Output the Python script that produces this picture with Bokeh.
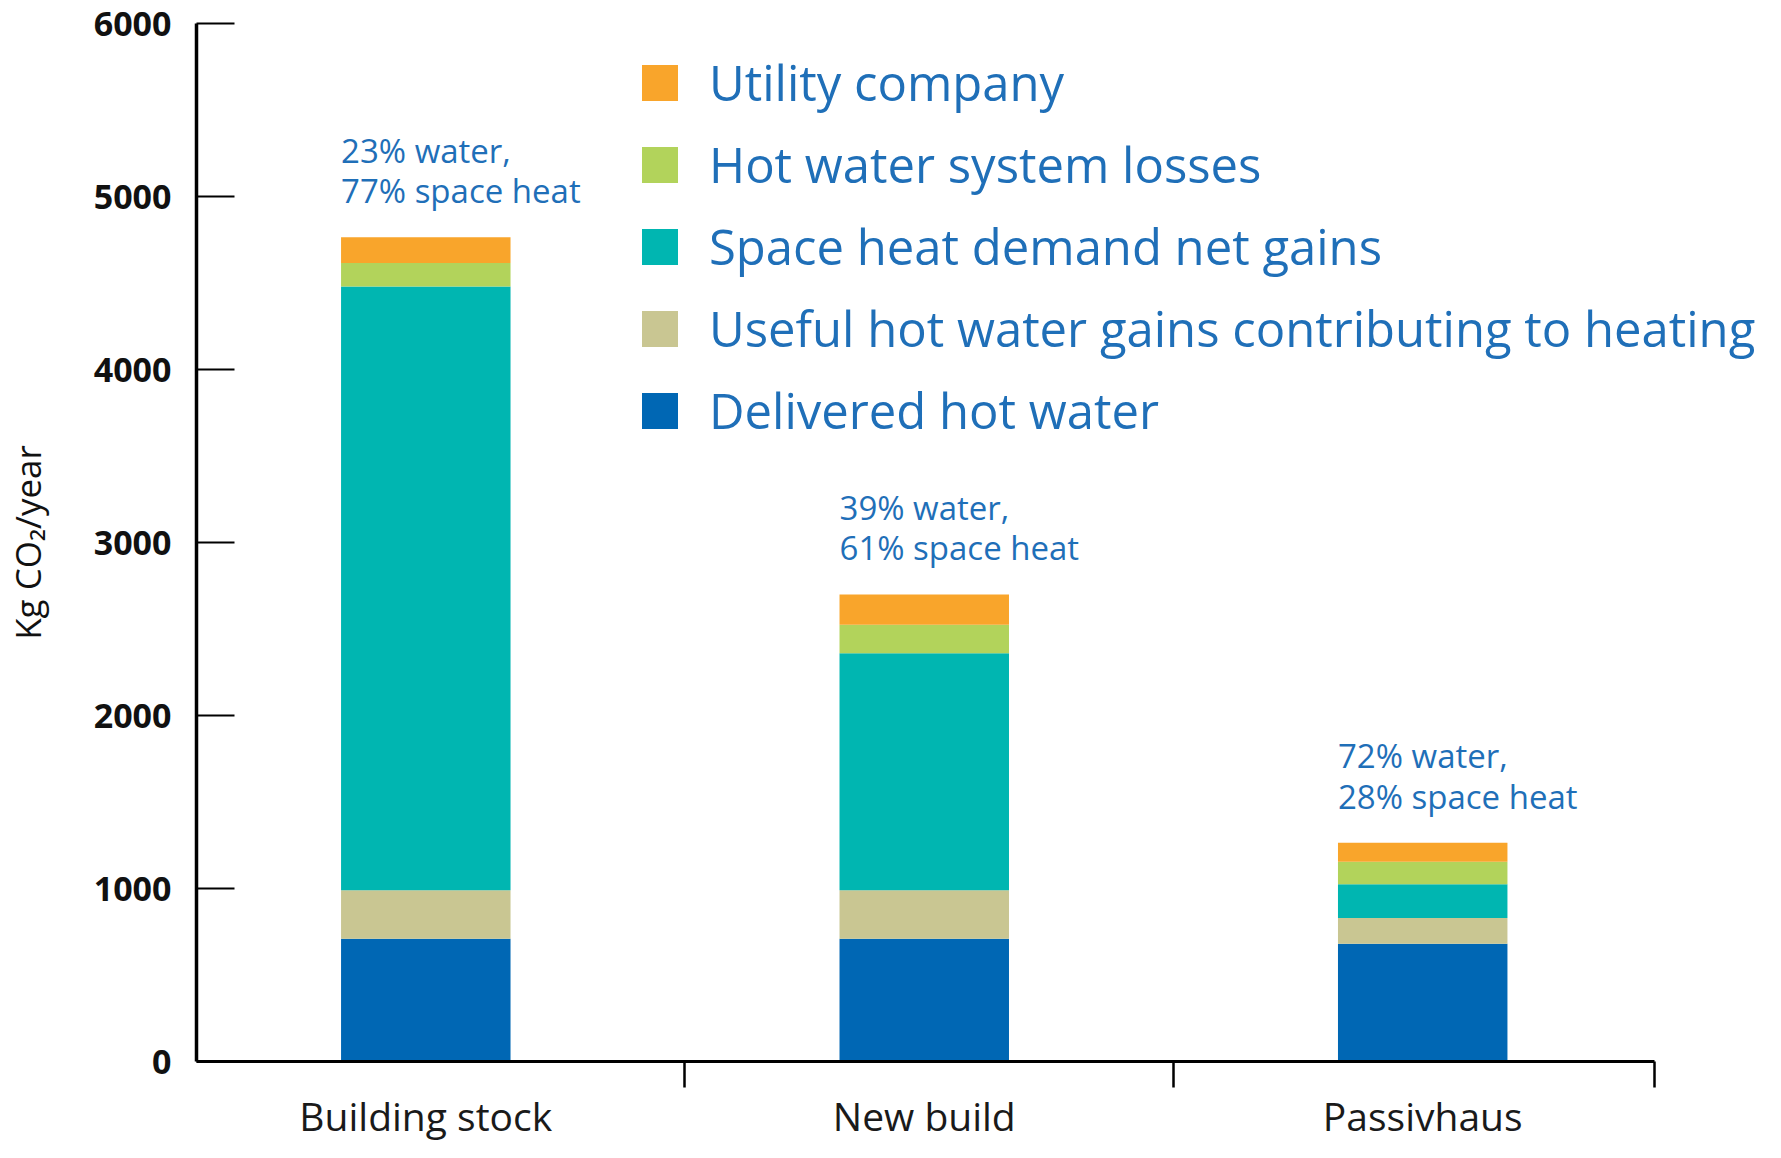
from bokeh.plotting import figure
from bokeh.models import Range1d, FixedTicker, Legend, LegendItem, ColumnDataSource
from bokeh.core.properties import value
from bokeh.embed import file_html
from bokeh.resources import INLINE

categories = ["Building stock", "New build", "Passivhaus"]
series_names = ["Delivered hot water",
                "Useful hot water gains contributing to heating",
                "Space heat demand net gains",
                "Hot water system losses",
                "Utility company"]
delivered = [710, 710, 680]
useful = [280, 280, 150]
space_heat = [3490, 1370, 195]
losses = [135, 165, 130]
utility = [150, 175, 110]
notes = ["23% water,\n77% space heat", "39% water,\n61% space heat", "72% water,\n28% space heat"]
colors = ["#0067B4", "#C9C692", "#00B6B1", "#B2D35B", "#F9A52B"]
y_ticks = [0, 1000, 2000, 3000, 4000, 5000, 6000]
boundary_ticks = [1.52, 2.5, 3.465]

TEXT_BLUE = "#1f6fb8"
bar_width = 0.34
xs = list(range(1, len(categories) + 1))
totals = [a + b + c + d + e for a, b, c, d, e in zip(delivered, useful, space_heat, losses, utility)]

source = ColumnDataSource(data={
    "x": xs,
    series_names[0]: delivered,
    series_names[1]: useful,
    series_names[2]: space_heat,
    series_names[3]: losses,
    series_names[4]: utility,
})

# layout: frame runs to the right edge so the long legend text is not clipped;
# the x axis itself is bounded to the category area
W, LEFT = 1765, 189
FRAME_W = W - LEFT
X_START, AXIS_END = 0.54, 3.465
PX_PER_UNIT = 498.46
X_END = X_START + FRAME_W / PX_PER_UNIT

p = figure(frame_width=FRAME_W, frame_height=1038,
           min_border_left=LEFT, min_border_right=0, min_border_top=23, min_border_bottom=81,
           x_range=Range1d(X_START, X_END), y_range=Range1d(0, 6000),
           output_backend="svg", toolbar_location=None, tools="")
p.outline_line_color = None
p.xgrid.visible = False
p.ygrid.visible = False
p.background_fill_color = "white"
p.border_fill_color = "white"

renderers = p.vbar_stack(series_names, x="x", width=bar_width, color=colors, line_color=None, source=source)

# annotations above bars
p.text(x=[x - bar_width / 2 for x in xs], y=totals, text=notes,
       text_font=value("Open Sans"), text_font_size="33px", text_color=TEXT_BLUE,
       text_baseline="bottom", text_align="left", text_line_height=0.9, y_offset=-24)

# y axis
yax = p.yaxis[0]
yax.ticker = FixedTicker(ticks=y_ticks)
yax.axis_line_width = 3.5
yax.axis_line_color = "black"
yax.major_tick_line_width = 2
yax.major_tick_line_color = "black"
yax.major_tick_in = 38
yax.major_tick_out = 0
yax.minor_tick_line_color = None
yax.major_label_text_font = "Open Sans"
yax.major_label_text_font_style = "bold"
yax.major_label_text_font_size = "34px"
yax.major_label_text_color = "#111111"
yax.major_label_standoff = 25
yax.axis_label = "Kg CO₂/year"
yax.axis_label_text_font = "Open Sans"
yax.axis_label_text_font_style = "normal"
yax.axis_label_text_font_size = "35px"
yax.axis_label_text_color = "#111111"
yax.axis_label_standoff = 40

# x axis: category names at bar centres, boundary marks as minor ticks
xax = p.xaxis[0]
xax.bounds = (X_START, AXIS_END)
xax.ticker = FixedTicker(ticks=xs, minor_ticks=boundary_ticks)
xax.major_label_overrides = {x: c for x, c in zip(xs, categories)}
xax.axis_line_width = 3
xax.axis_line_color = "black"
xax.major_tick_line_color = None
xax.major_tick_out = 26
xax.major_tick_in = 0
xax.minor_tick_line_color = "black"
xax.minor_tick_line_width = 2.5
xax.minor_tick_out = 26
xax.minor_tick_in = 0
xax.major_label_text_font = "Open Sans"
xax.major_label_text_font_size = "39px"
xax.major_label_text_color = "#1a1a1a"
xax.major_label_standoff = 1

items = [LegendItem(label=n, renderers=[r]) for n, r in zip(series_names, renderers)][::-1]
legend = Legend(items=items, location=(441, 610),
                glyph_width=45, glyph_height=45, label_standoff=27,
                label_height=82, spacing=0, padding=0, margin=0,
                label_text_font="Open Sans", label_text_font_size="49px",
                label_text_color=TEXT_BLUE,
                border_line_color=None, background_fill_alpha=0)
p.add_layout(legend)

open("out.html", "w").write(file_html(p, INLINE))
